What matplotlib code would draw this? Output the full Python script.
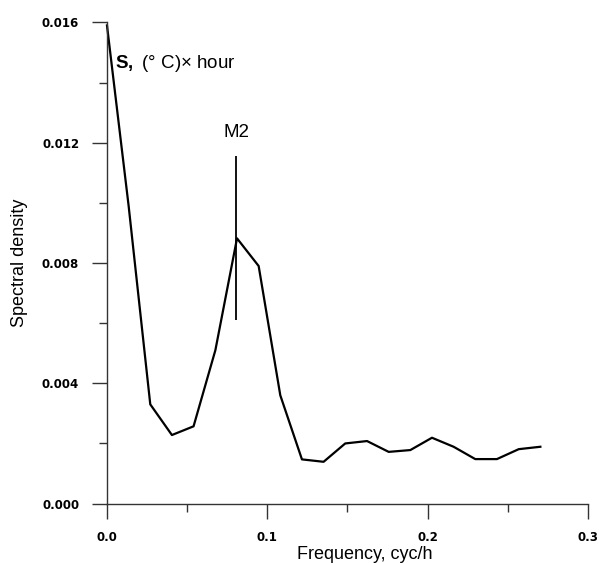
import matplotlib
matplotlib.use("Agg")
import matplotlib.pyplot as plt

plt.rcParams['font.family'] = ['Liberation Sans', 'DejaVu Sans']
plt.rcParams['mathtext.fontset'] = 'custom'
plt.rcParams['mathtext.rm'] = 'Liberation Sans'
plt.rcParams['mathtext.bf'] = 'Liberation Sans:bold'

# spectrum
freq = [0.0, 0.0135, 0.0270, 0.0405, 0.0540, 0.0676, 0.0811, 0.0946,
        0.1081, 0.1216, 0.1351, 0.1486, 0.1622, 0.1757, 0.1892, 0.2027,
        0.2162, 0.2297, 0.2432, 0.2568, 0.2703]
density = [0.0159, 0.0099, 0.0033, 0.00228, 0.00257, 0.0051, 0.00882, 0.0079,
           0.0036, 0.00147, 0.00139, 0.00200, 0.00208, 0.00172, 0.00178, 0.00219,
           0.00189, 0.00148, 0.00148, 0.00181, 0.00189]

# M2 tidal marker
m2_freq = 0.0805
m2_span = (0.0061, 0.01155)

xticks = [0.0, 0.1, 0.2, 0.3]
xminor = [0.05, 0.15, 0.25]
yticks = [0.000, 0.004, 0.008, 0.012, 0.016]
yminor = [0.002, 0.006, 0.010, 0.014]

fig = plt.figure(figsize=(5.99, 5.63), dpi=100)
ax = fig.add_axes([0.1786, 0.1055, 0.8030, 0.8547])

ax.plot(freq, density, color='black', lw=1.6, clip_on=False)
ax.vlines(m2_freq, m2_span[0], m2_span[1], color='black', lw=1.3)
ax.text(m2_freq, 0.0122, "M2", ha='center', va='baseline', fontsize=13.5)
ax.text(0.005, 0.01448, r"$\mathbf{S,}$ (° C)$\times$ hour", ha='left',
        va='baseline', fontsize=13.5)

ax.set_xlim(0, 0.3)
ax.set_ylim(0, 0.016)
ax.set_xticks(xticks)
ax.set_xticks(xminor, minor=True)
ax.set_yticks(yticks)
ax.set_yticks(yminor, minor=True)
ax.set_xticklabels([f"{v:.1f}" for v in xticks], fontfamily='DejaVu Sans',
                   fontweight='bold', fontsize=8.5)
ax.set_yticklabels([f"{v:.3f}" for v in yticks], fontfamily='DejaVu Sans',
                   fontweight='bold', fontsize=8.5)

for s in ['top', 'right']:
    ax.spines[s].set_visible(False)
for s in ['left', 'bottom']:
    ax.spines[s].set_color('#333333')
    ax.spines[s].set_linewidth(1.0)

ax.tick_params(which='major', length=11, width=1.0, color='#333333', pad=9)
ax.tick_params(which='minor', length=6, width=1.0, color='#333333')

ax.set_xlabel("Frequency, cyc/h", fontsize=13)
ax.xaxis.set_label_coords(0.536, -0.088)
ax.set_ylabel("Spectral density", fontsize=13, labelpad=10)

fig.savefig("out.png", dpi=100)
